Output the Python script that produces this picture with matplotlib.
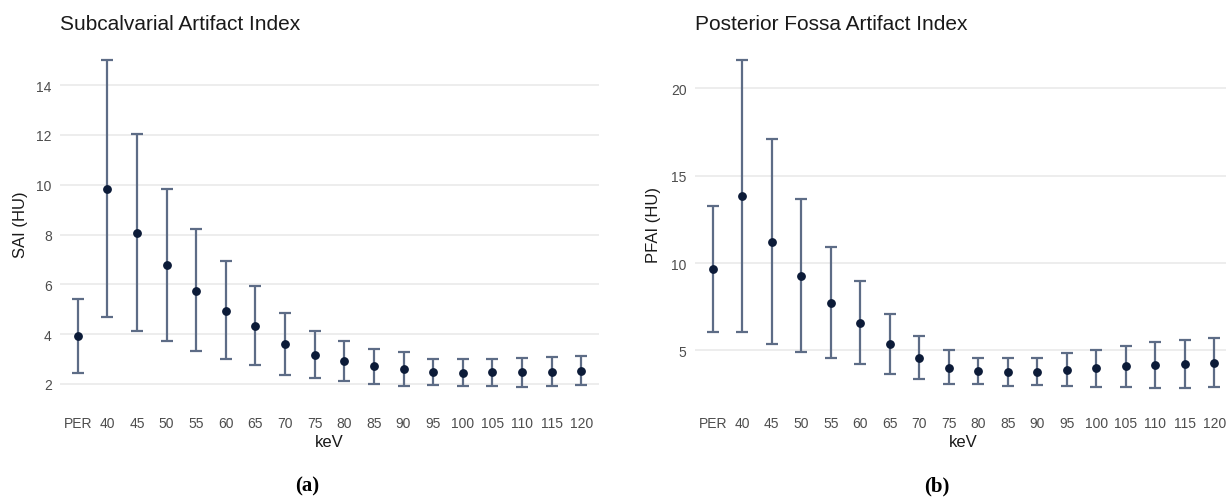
import numpy as np
import matplotlib
matplotlib.use("Agg")
import matplotlib.pyplot as plt

plt.rcParams['font.family'] = ['Liberation Sans', 'DejaVu Sans']

# keV levels, PER = polyenergetic reference
kev_labels = ["PER", "40", "45", "50", "55", "60", "65", "70", "75", "80",
              "85", "90", "95", "100", "105", "110", "115", "120"]

# Subcalvarial artifact index (HU): mean with lower / upper bounds
sai_mean = [3.92, 9.83, 8.05, 6.76, 5.74, 4.94, 4.34, 3.60, 3.16, 2.91,
            2.71, 2.60, 2.48, 2.44, 2.47, 2.47, 2.48, 2.53]
sai_low = [2.46, 4.67, 4.11, 3.71, 3.31, 3.00, 2.75, 2.37, 2.24, 2.13,
           2.01, 1.91, 1.97, 1.91, 1.93, 1.89, 1.91, 1.95]
sai_high = [5.40, 15.02, 12.04, 9.83, 8.21, 6.92, 5.94, 4.85, 4.11, 3.71,
            3.40, 3.27, 3.00, 3.00, 3.02, 3.04, 3.07, 3.11]

# Posterior fossa artifact index (HU)
pfai_mean = [9.65, 13.81, 11.21, 9.26, 7.70, 6.59, 5.34, 4.54, 4.01, 3.81,
             3.76, 3.78, 3.87, 3.97, 4.08, 4.16, 4.23, 4.29]
pfai_low = [6.05, 6.05, 5.34, 4.90, 4.54, 4.24, 3.62, 3.34, 3.09, 3.05,
            2.95, 2.99, 2.95, 2.92, 2.92, 2.86, 2.86, 2.90]
pfai_high = [13.28, 21.63, 17.10, 13.66, 10.89, 8.96, 7.10, 5.82, 5.00, 4.54,
             4.58, 4.58, 4.87, 5.05, 5.26, 5.47, 5.60, 5.69]

bar_color = "#5d6c86"
dot_color = "#0c1b38"
grid_color = "#ececec"
tick_color = "#4d4d4d"

W, H = 1226, 502
fig = plt.figure(figsize=(W / 100, H / 100), dpi=100)
fig.patch.set_facecolor("white")


def panel(rect, mean, low, high, ylim, yticks, title, ylabel, tag, tag_x):
    ax = fig.add_axes(rect)
    x = np.arange(len(kev_labels))
    mean = np.array(mean)
    err = [mean - np.array(low), np.array(high) - mean]
    ax.errorbar(x, mean, yerr=err, fmt="none", ecolor=bar_color,
                elinewidth=1.6, capsize=4.5, capthick=1.6, zorder=2)
    ax.plot(x, mean, "o", color=dot_color, markersize=5.3, zorder=3)

    ax.set_xlim(-0.6, len(kev_labels) - 0.4)
    ax.set_ylim(*ylim)
    ax.set_xticks(x)
    ax.set_xticklabels(kev_labels)
    ax.set_yticks(yticks)
    ax.tick_params(axis="both", length=0, labelsize=10, colors=tick_color)
    ax.tick_params(axis="x", pad=9)
    ax.tick_params(axis="y", pad=6)
    ax.grid(axis="y", color=grid_color, linewidth=1.3)
    ax.grid(axis="x", visible=False)
    ax.set_axisbelow(True)
    for s in ax.spines.values():
        s.set_visible(False)

    ax.set_title(title, loc="left", fontsize=15, y=1.042, pad=0,
                 color="#1a1a1a")
    ax.set_xlabel("keV", fontsize=12, va="center", color="#1a1a1a")
    ax.xaxis.set_label_coords(0.5, -0.104)
    ax.set_ylabel(ylabel, fontsize=12, va="center", color="#1a1a1a")
    ax.yaxis.set_label_coords(-0.074, 0.5)

    fig.text(tag_x / W, 1 - 486 / H, tag, ha="center", va="center",
             fontsize=15, fontweight="bold", family="Liberation Serif")
    return ax


bottom = 1 - 405 / H
height = 360 / H

panel([60 / W, bottom, 539 / W, height], sai_mean, sai_low, sai_high,
      (1.197, 15.65), [2, 4, 6, 8, 10, 12, 14],
      "Subcalvarial Artifact Index", "SAI (HU)", "(a)", 307)

ax_b = panel([695 / W, bottom, 537 / W, height], pfai_mean, pfai_low, pfai_high,
             (1.93, 22.54), [5, 10, 15, 20],
             "Posterior Fossa Artifact Index", "PFAI (HU)", "(b)", 937)
ax_b.yaxis.set_label_coords(-0.077, 0.5)

fig.savefig("out.png", dpi=100, facecolor="white")
